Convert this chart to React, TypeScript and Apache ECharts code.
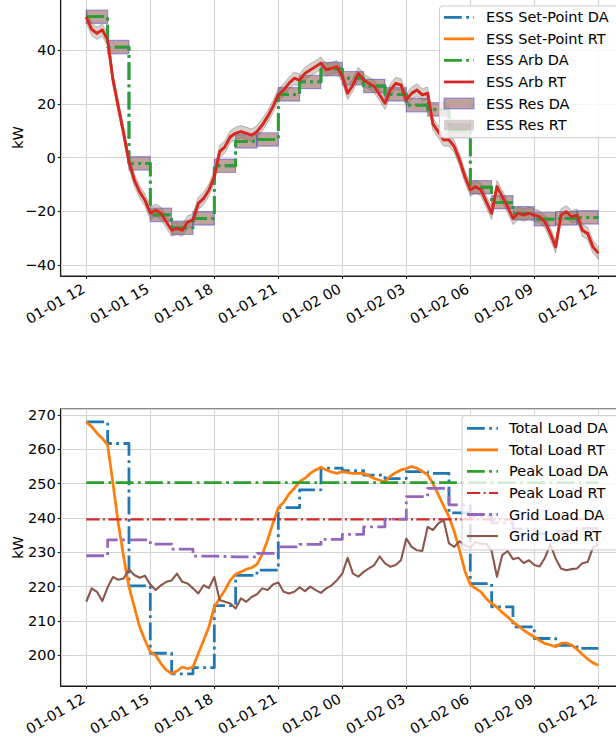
import React, { useEffect, useRef } from "react";
import * as echarts from "echarts";

const FONT = "'DejaVu Sans', sans-serif";
const FONT_SIZE = 14.5;

// Horizon: 01-01 12:00 .. 01-02 12:00, x expressed in hours from the start
const TIME_TICK_LABELS = [
  "01-01 12", "01-01 15", "01-01 18", "01-01 21", "01-02 00",
  "01-02 03", "01-02 06", "01-02 09", "01-02 12",
];
const TICK_STEP_H = 3;
const RT_STEP_H = 0.25;
const X_MIN_H = -1.2;
const X_MAX_H = 25.2;
const HORIZON_H = 24;

// ---- ESS (top panel), kW ----
const ESS_ARB_DA = [
  52.5, 41.2, -2.1, -21.3, -26.1, -22.6, -3.0, 6.1, 6.8, 23.6, 28.2, 33.0,
  29.6, 26.7, 23.6, 19.6, 18.0, 10.0, -11.0, -16.6, -20.7, -22.9, -22.6, -22.2,
];
const ESS_SETPOINT_DA = ESS_ARB_DA;
const ESS_RES_DA_KW = 2.5;

const ESS_ARB_RT = [
  52.5, 47.8, 46.3, 47.6,
  43.9, 29.0, 19.0, 9.1,
  -1.5, -8.3, -12.7, -15.8,
  -20.7, -19.5, -20.7, -23.9,
  -27.0, -26.3, -27.0, -23.9,
  -23.2, -17.0, -15.2, -12.0,
  -7.1, 2.2, 4.1, 7.8,
  9.1, 9.7, 9.1, 8.4,
  9.7, 12.2, 15.3, 19.0,
  23.4, 25.2, 27.7, 29.6,
  28.9, 31.4, 32.7, 33.9,
  35.2, 32.7, 33.3, 33.9,
  30.2, 24.0, 27.1, 31.4,
  29.0, 27.7, 26.5, 23.4,
  20.3, 25.2, 27.7, 27.1,
  21.5, 24.0, 25.2, 23.4,
  24.0, 12.5, 9.7, 6.6,
  6.6, 4.1, -0.9, -7.1,
  -12.0, -10.8, -12.0, -16.4,
  -20.7, -10.8, -14.5, -18.3,
  -22.6, -20.7, -21.4, -20.7,
  -21.4, -22.0, -23.9, -28.2,
  -33.2, -21.4, -20.1, -22.0,
  -21.4, -27.0, -28.2, -33.2,
  -35.5,
];
const ESS_SETPOINT_RT = ESS_ARB_RT;
const ESS_RES_RT_KW = 2.3;

// ---- Loads (bottom panel), kW ----
const TOTAL_LOAD_DA = [
  268.0, 261.7, 220.2, 200.6, 194.6, 196.4, 214.5, 223.3, 224.8, 243.0, 248.2, 254.5,
  253.8, 252.5, 251.5, 253.5, 253.0, 241.5, 220.9, 214.1, 208.3, 204.9, 202.9, 202.0,
];
const TOTAL_LOAD_RT = [
  268.0, 266.6, 264.7, 263.2,
  261.3, 250.1, 238.4, 228.7,
  220.0, 214.1, 208.3, 204.4,
  201.0, 200.0, 197.6, 195.7,
  194.7, 195.4, 196.6, 196.1,
  196.6, 200.5, 204.4, 208.3,
  214.1, 216.6, 219.0, 221.9,
  223.6, 224.3, 225.1, 225.5,
  226.5, 229.5, 233.6, 238.5,
  243.0, 244.6, 247.0, 248.6,
  250.6, 251.6, 253.0, 254.0,
  254.8, 254.0, 253.4, 253.0,
  253.5, 253.2, 253.0, 253.0,
  253.0, 252.3, 251.5, 251.0,
  250.6, 252.2, 253.2, 254.0,
  254.4, 255.0, 254.5, 253.6,
  252.6, 250.0, 246.8, 243.5,
  240.4, 236.0, 230.5, 224.5,
  220.6, 219.5, 218.5, 216.5,
  215.1, 214.0, 212.5, 211.2,
  209.7, 208.6, 207.3, 206.3,
  205.4, 204.3, 203.4, 203.0,
  202.5, 203.5, 203.6, 203.0,
  201.8, 200.3, 198.9, 197.8,
  197.1,
];
const PEAK_LOAD_DA = 250.3;
const PEAK_LOAD_RT = 239.6;
const GRID_LOAD_DA = [
  229.0, 233.6, 233.6, 232.4, 230.9, 228.9, 228.7, 228.7, 229.7, 231.6, 232.3, 233.8,
  235.2, 237.4, 239.7, 246.2, 248.6, 243.8, 240.5, 238.6, 236.8, 235.4, 236.2, 237.0,
];
const GRID_LOAD_RT = [
  215.6, 219.5, 218.5, 215.8,
  219.8, 222.8, 222.0, 222.4,
  225.0, 223.4, 222.6, 223.2,
  220.6, 219.0, 220.4, 221.4,
  221.8, 223.8, 221.4, 220.9,
  219.5, 218.0, 220.4, 219.6,
  222.8, 216.1, 215.6, 215.1,
  213.6, 216.6, 215.6, 217.0,
  217.8, 219.5, 219.0, 220.6,
  221.2, 218.5, 218.0, 218.5,
  219.8, 218.7, 220.0, 219.0,
  218.2, 219.5, 220.4, 221.9,
  223.8, 228.4, 223.8, 222.9,
  224.3, 225.3, 226.3, 228.8,
  226.8, 225.8, 226.3, 227.7,
  234.0, 231.6, 230.6, 230.4,
  237.4, 236.5, 238.4, 239.4,
  232.6, 231.6, 233.2, 232.0,
  231.5, 233.0, 232.5, 232.5,
  230.4, 222.9, 229.2, 230.4,
  228.0, 228.4, 226.9, 227.7,
  226.3, 225.9, 228.4, 232.4,
  228.2, 225.3, 224.8, 225.1,
  225.3, 226.8, 227.2, 231.4,
  232.3,
];

const TOP_LEGEND = ["ESS Set-Point DA", "ESS Set-Point RT", "ESS Arb DA", "ESS Arb RT", "ESS Res DA", "ESS Res RT"];
const BOTTOM_LEGEND = ["Total Load DA", "Total Load RT", "Peak Load DA", "Peak Load RT", "Grid Load DA", "Grid Load RT"];

// ---- styling ----
const C = {
  blue: "#1f77b4", orange: "#ff7f0e", green: "#2ca02c",
  red: "#d62728", purple: "#9467bd", brown: "#8c564b",
};
const LW = 2.78;
const LW_THIN = 2.08;
const DASHDOT = [17.8, 4.4, 2.8, 4.4];
const DASHDOT_THIN = [13.3, 3.3, 2.1, 3.3];
const RES_DA_FILL = "rgba(140,86,75,0.55)";
const RES_DA_EDGE = "rgba(40,40,230,0.4)";
const RES_RT_FILL = "rgba(130,105,100,0.32)";
const RES_RT_EDGE = "rgba(110,100,100,0.4)";
const GRID_COLOR = "#d4d4d4";
const SPINE = "#1a1a1a";

const stepData = (vals: number[]) => [
  ...vals.map((v, h) => [h, v]),
  [vals.length, vals[vals.length - 1]],
];
const rtData = (vals: number[]) => vals.map((v, i) => [i * RT_STEP_H, v]);
const flatData = (v: number) => [[0, v], [HORIZON_H, v]];

function lineSeries(name: string, data: number[][], color: string, width: number, dash: number[] | null, step: boolean, idx: number) {
  return {
    type: "line", name, data, xAxisIndex: idx, yAxisIndex: idx,
    symbol: "none", step: step ? "end" : false, silent: true, z: 3,
    lineStyle: { color, width, type: dash ?? "solid", cap: "butt", join: "round" },
    itemStyle: { color },
    emphasis: { disabled: true },
  };
}

function xAxis(idx: number) {
  return {
    type: "value", gridIndex: idx, min: X_MIN_H, max: X_MAX_H,
    minInterval: TICK_STEP_H, maxInterval: TICK_STEP_H,
    axisLine: { show: true, onZero: false, lineStyle: { color: SPINE, width: 1.1 } },
    axisTick: { show: true, length: 3, lineStyle: { color: SPINE, width: 1.1 } },
    axisLabel: {
      rotate: 30, margin: 10, fontSize: FONT_SIZE, color: "#000", fontFamily: FONT,
      showMinLabel: false, showMaxLabel: false, padding: [0, 3, 0, 0],
      formatter: (v: number) => {
        const k = v / TICK_STEP_H;
        return Math.abs(k - Math.round(k)) < 1e-6 ? TIME_TICK_LABELS[Math.round(k)] ?? "" : "";
      },
    },
    splitLine: { show: true, lineStyle: { color: GRID_COLOR, width: 1.1 } },
  };
}

function yAxis(idx: number, min: number, max: number, step: number) {
  return {
    type: "value", gridIndex: idx, min, max, minInterval: step, maxInterval: step,
    name: "kW", nameLocation: "middle", nameGap: 35, nameMoveOverlap: false,
    nameTextStyle: { fontSize: FONT_SIZE, color: "#000", fontFamily: FONT },
    axisLine: { show: true, onZero: false, lineStyle: { color: SPINE, width: 1.1 } },
    axisTick: { show: true, length: 3, lineStyle: { color: SPINE, width: 1.1 } },
    axisLabel: {
      margin: 5, fontSize: FONT_SIZE, color: "#000", fontFamily: FONT,
      showMinLabel: false, showMaxLabel: false,
      formatter: (v: number) => {
        const k = v / step;
        return Math.abs(k - Math.round(k)) < 1e-6 ? String(Math.round(v)).replace("-", "\u2212") : "";
      },
    },
    splitLine: { show: true, lineStyle: { color: GRID_COLOR, width: 1.1 } },
  };
}

type LegendStyle = { kind: "line"; color: string; width: number; dash: number[] | null } | { kind: "patch"; fill: string; edge: string };

function legendGraphic(
  box: { x: number; y: number; w: number; h: number },
  rowY0: number, rowStep: number, handleX: number, handleW: number, textX: number,
  names: string[], styles: LegendStyle[],
) {
  const z = 100;
  const children: any[] = [
    {
      type: "rect", z,
      shape: { x: box.x, y: box.y, width: box.w, height: box.h, r: 3 },
      style: { fill: "rgba(255,255,255,0.8)", stroke: "#cccccc", lineWidth: 1 },
    },
  ];
  names.forEach((name, k) => {
    const y = rowY0 + k * rowStep;
    const s = styles[k];
    if (s.kind === "line") {
      children.push({
        type: "line", z: z + 1,
        shape: { x1: handleX, y1: y, x2: handleX + handleW, y2: y },
        style: { stroke: s.color, lineWidth: s.width, lineDash: s.dash ?? undefined, lineCap: "butt" },
      });
    } else {
      children.push({
        type: "rect", z: z + 1,
        shape: { x: handleX, y: y - 5.3, width: handleW, height: 10.6 },
        style: { fill: s.fill, stroke: s.edge, lineWidth: 1.2 },
      });
    }
    children.push({
      type: "text", z: z + 1, x: textX, y,
      style: { text: name, fill: "#000", fontSize: FONT_SIZE, fontFamily: FONT, verticalAlign: "middle", align: "left" },
    });
  });
  return { type: "group", children };
}

function buildOption() {
  const rtX = ESS_ARB_RT.map((_, i) => i * RT_STEP_H);
  const bandUpper = ESS_ARB_RT.map((v) => v + ESS_RES_RT_KW);
  const bandLower = ESS_ARB_RT.map((v) => v - ESS_RES_RT_KW);

  const resDaSeries = {
    type: "custom", name: "ESS Res DA", xAxisIndex: 0, yAxisIndex: 0, silent: true, z: 1,
    data: ESS_ARB_DA.map((v, h) => [h, v]),
    renderItem: (_p: any, api: any) => {
      const h = api.value(0);
      const v = api.value(1);
      const tl = api.coord([h, v + ESS_RES_DA_KW]);
      const br = api.coord([h + 1, v - ESS_RES_DA_KW]);
      return {
        type: "rect",
        shape: { x: tl[0], y: tl[1], width: br[0] - tl[0], height: br[1] - tl[1] },
        style: { fill: RES_DA_FILL, stroke: RES_DA_EDGE, lineWidth: 1.2 },
      };
    },
  };

  const resRtSeries = {
    type: "custom", name: "ESS Res RT", xAxisIndex: 0, yAxisIndex: 0, silent: true, z: 2,
    data: [[rtX[0], bandUpper[0]]],
    renderItem: (_p: any, api: any) => {
      const up = rtX.map((x, i) => api.coord([x, bandUpper[i]]));
      const lo = rtX.map((x, i) => api.coord([x, bandLower[i]])).reverse();
      return {
        type: "polygon",
        shape: { points: up.concat(lo) },
        style: { fill: RES_RT_FILL, stroke: RES_RT_EDGE, lineWidth: 1 },
      };
    },
  };

  const topStyles: LegendStyle[] = [
    { kind: "line", color: C.blue, width: LW, dash: DASHDOT },
    { kind: "line", color: C.orange, width: LW, dash: null },
    { kind: "line", color: C.green, width: LW, dash: DASHDOT },
    { kind: "line", color: C.red, width: LW, dash: null },
    { kind: "patch", fill: RES_DA_FILL, edge: RES_DA_EDGE },
    { kind: "patch", fill: RES_RT_FILL, edge: "rgba(0,0,0,0)" },
  ];
  const bottomStyles: LegendStyle[] = [
    { kind: "line", color: C.blue, width: LW, dash: DASHDOT },
    { kind: "line", color: C.orange, width: LW, dash: null },
    { kind: "line", color: C.green, width: LW, dash: DASHDOT },
    { kind: "line", color: C.red, width: LW_THIN, dash: DASHDOT_THIN },
    { kind: "line", color: C.purple, width: LW, dash: DASHDOT },
    { kind: "line", color: C.brown, width: LW_THIN, dash: null },
  ];

  return {
    animation: false,
    backgroundColor: "#ffffff",
    textStyle: { fontFamily: FONT },
    grid: [
      { left: 60.7, right: -7.9, top: -1, height: 277, show: true, borderColor: SPINE, borderWidth: 1.1, backgroundColor: "transparent", outerBoundsMode: "none" },
      { left: 60.7, right: -7.9, top: 409, height: 277, show: true, borderColor: SPINE, borderWidth: 1.1, backgroundColor: "transparent", outerBoundsMode: "none" },
    ],
    xAxis: [xAxis(0), xAxis(1)],
    yAxis: [yAxis(0, -44.05, 59.1, 20), yAxis(1, 191.06, 271.75, 10)],
    graphic: [
      legendGraphic({ x: 439.5, y: 6, w: 182, h: 131.7 }, 17.3, 21.55, 444, 30, 486, TOP_LEGEND, topStyles),
      legendGraphic({ x: 462, y: 415.7, w: 160, h: 134.3 }, 428.3, 21.55, 467, 31, 509, BOTTOM_LEGEND, bottomStyles),
    ],
    series: [
      resDaSeries,
      resRtSeries,
      lineSeries("ESS Set-Point DA", stepData(ESS_SETPOINT_DA), C.blue, LW, DASHDOT, true, 0),
      lineSeries("ESS Set-Point RT", rtData(ESS_SETPOINT_RT), C.orange, LW, null, false, 0),
      lineSeries("ESS Arb DA", stepData(ESS_ARB_DA), C.green, LW, DASHDOT, true, 0),
      lineSeries("ESS Arb RT", rtData(ESS_ARB_RT), C.red, LW, null, false, 0),

      lineSeries("Total Load DA", stepData(TOTAL_LOAD_DA), C.blue, LW, DASHDOT, true, 1),
      lineSeries("Total Load RT", rtData(TOTAL_LOAD_RT), C.orange, LW, null, false, 1),
      lineSeries("Peak Load DA", flatData(PEAK_LOAD_DA), C.green, LW, DASHDOT, false, 1),
      lineSeries("Peak Load RT", flatData(PEAK_LOAD_RT), C.red, LW_THIN, DASHDOT_THIN, false, 1),
      lineSeries("Grid Load DA", stepData(GRID_LOAD_DA), C.purple, LW, DASHDOT, true, 1),
      lineSeries("Grid Load RT", rtData(GRID_LOAD_RT), C.brown, LW_THIN, null, false, 1),
    ],
  };
}

export default function App() {
  const ref = useRef<HTMLDivElement>(null);
  useEffect(() => {
    if (!ref.current) return;
    const chart = echarts.init(ref.current, null, { renderer: "svg" });
    chart.setOption(buildOption() as any);
    return () => chart.dispose();
  }, []);
  return (
    <div
      ref={ref}
      style={{ position: "absolute", left: 0, top: 0, width: 616, height: 740, background: "#fff" }}
    />
  );
}
